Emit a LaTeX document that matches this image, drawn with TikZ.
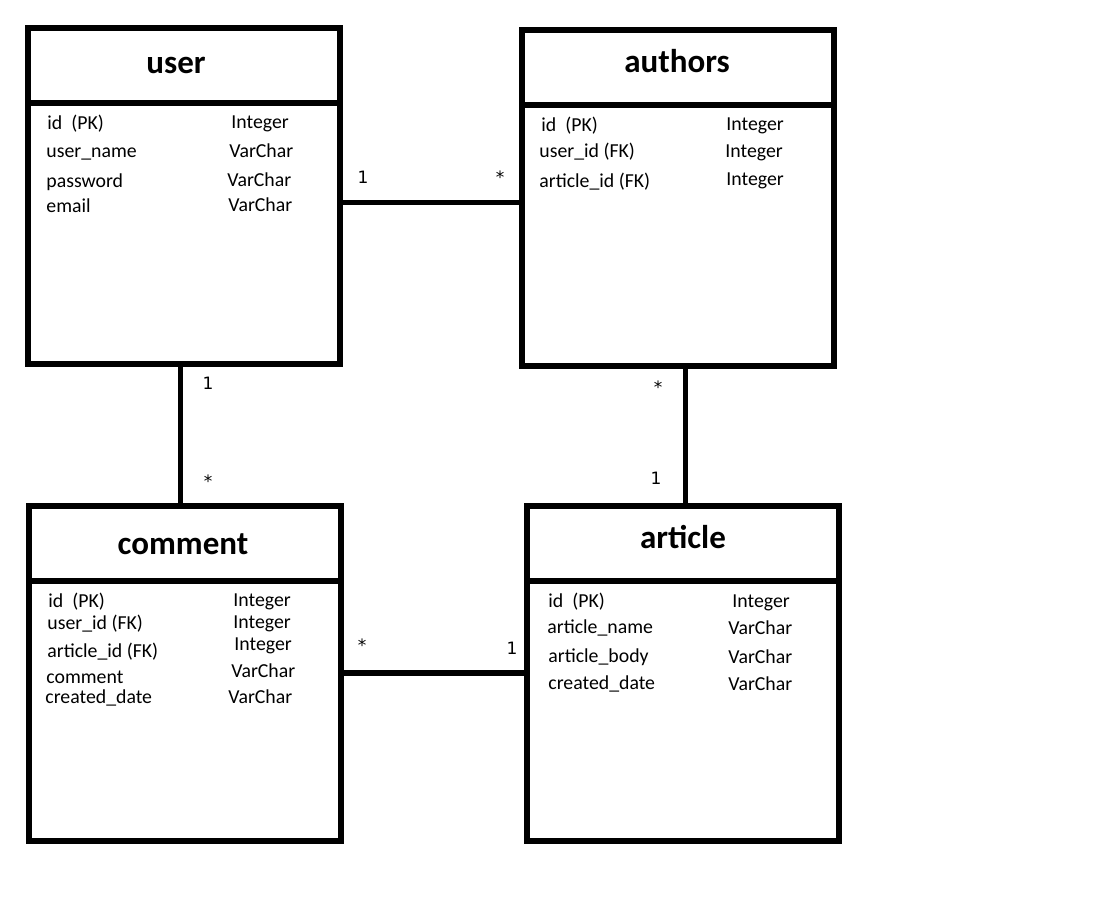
\documentclass[tikz,border=0pt]{standalone}
\usepackage{fontspec}
\setmainfont{Carlito}
\newfontfamily\multfont{DejaVu Sans}
\usetikzlibrary{positioning,calc}

\begin{document}
\begin{tikzpicture}[x=0.5pt,y=-0.5pt]

		\tikzstyle{tablehead}=[draw,line width=3pt,minimum width=156pt,minimum height=37.5pt,inner sep=0pt,outer sep=0pt]
		\tikzstyle{tablebody}=[draw,line width=3pt,minimum width=156pt,minimum height=130pt,inner sep=0pt,outer sep=0pt]
		\tikzstyle{title}=[anchor=base,inner sep=0pt,font=\fontsize{16.5}{20}\selectfont\bfseries]
		\tikzstyle{field}=[anchor=base west,inner sep=0pt,font=\fontsize{9.9}{12}\selectfont]
		\tikzstyle{link}=[line width=2.7pt]
		\tikzstyle{mult}=[inner sep=0pt,font=\multfont\fontsize{8.5}{10}\selectfont]

		\useasboundingbox (0,0) rectangle (1098,920);

		% tables
		\node[tablehead] (userhead) at (183.5, 66) {};
		\node[tablebody, below=0pt of userhead] (userbody) {};
		\node[tablehead] (authorshead) at (677.5, 68) {};
		\node[tablebody, below=0pt of authorshead] (authorsbody) {};
		\node[tablehead] (commenthead) at (185, 543) {};
		\node[tablebody, below=0pt of commenthead] (commentbody) {};
		\node[tablehead] (articlehead) at (683, 543) {};
		\node[tablebody, below=0pt of articlehead] (articlebody) {};

		\node[title] (usertitle) at (176, 74) {user};
		\node[title] (authorstitle) at (677, 73) {authors};
		\node[title] (commenttitle) at (183, 554) {comment};
		\node[title] (articletitle) at (683, 548) {article};

		% user
		\node[field] (user-id) at (47, 130) {id\ \ (PK)};
		\node[field] (user-name) at (46, 158) {user\_name};
		\node[field] (user-pass) at (46, 187) {password};
		\node[field] (user-mail) at (46, 213) {email};
		\node[field] (user-id-t) at (231, 129) {Integer};
		\node[field] (user-name-t) at (229, 157) {VarChar};
		\node[field] (user-pass-t) at (227, 186) {VarChar};
		\node[field] (user-mail-t) at (228, 212) {VarChar};

		% authors
		\node[field] (authors-id) at (541, 132) {id\ \ (PK)};
		\node[field] (authors-user) at (539, 158) {user\_id (FK)};
		\node[field] (authors-art) at (539, 187) {article\_id (FK)};
		\node[field] (authors-id-t) at (726, 131) {Integer};
		\node[field] (authors-user-t) at (725, 157) {Integer};
		\node[field] (authors-art-t) at (726, 185) {Integer};

		% comment
		\node[field] (comment-id) at (48, 607) {id\ \ (PK)};
		\node[field] (comment-user) at (47, 629) {user\_id (FK)};
		\node[field] (comment-art) at (47, 657) {article\_id (FK)};
		\node[field] (comment-text) at (46, 683) {comment};
		\node[field] (comment-date) at (45, 703) {created\_date};
		\node[field] (comment-id-t) at (233, 606) {Integer};
		\node[field] (comment-user-t) at (233, 628) {Integer};
		\node[field] (comment-art-t) at (234, 650) {Integer};
		\node[field] (comment-text-t) at (231, 677) {VarChar};
		\node[field] (comment-date-t) at (228, 703) {VarChar};

		% article
		\node[field] (article-id) at (548, 607) {id\ \ (PK)};
		\node[field] (article-name) at (547, 633) {article\_name};
		\node[field] (article-body) at (548, 662) {article\_body};
		\node[field] (article-date) at (548, 689) {created\_date};
		\node[field] (article-id-t) at (732, 607) {Integer};
		\node[field] (article-name-t) at (728, 634) {VarChar};
		\node[field] (article-body-t) at (728, 663) {VarChar};
		\node[field] (article-date-t) at (728, 690) {VarChar};

		% links
		\coordinate (ua) at ($(userbody.north east)!.38!(userbody.south east)$);
		\draw[link] (ua) -- (ua -| authorsbody.west);
		\coordinate (uc) at ($(userbody.south west)!.49!(userbody.south east)$);
		\draw[link] (uc) -- (uc |- commenthead.north);
		\coordinate (aa) at ($(authorsbody.south west)!.525!(authorsbody.south east)$);
		\draw[link] (aa) -- (aa |- articlehead.north);
		\coordinate (ca) at ($(commentbody.north east)!.355!(commentbody.south east)$);
		\draw[link] (ca) -- (ca -| articlebody.west);

		\node[mult] (ua-1) at (363, 177) {1};
		\node[mult] (ua-n) at (500, 177) {*};
		\node[mult] (uc-1) at (208, 383) {1};
		\node[mult] (uc-n) at (208, 481) {*};
		\node[mult] (aa-n) at (658, 387) {*};
		\node[mult] (aa-1) at (656, 478) {1};
		\node[mult] (ca-n) at (362, 645) {*};
		\node[mult] (ca-1) at (512, 648) {1};

\end{tikzpicture}
\end{document}
